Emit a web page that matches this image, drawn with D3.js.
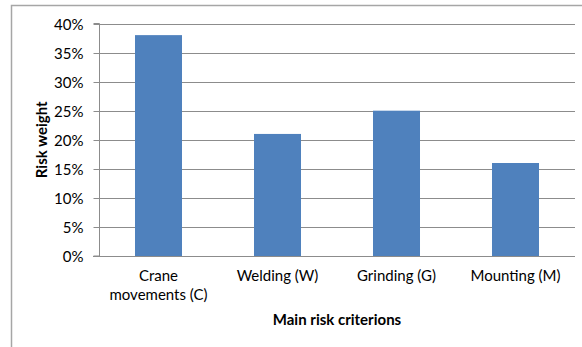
<!DOCTYPE html>
<html>
<head>
<meta charset="utf-8">
<script src="https://cdn.jsdelivr.net/npm/d3@7"></script>
<style>
  html, body { margin: 0; padding: 0; background: #fff; }
  svg { display: block; }
  text { font-family: Lato, "Open Sans", sans-serif; fill: #000; }
</style>
</head>
<body>
<svg id="chart" width="582" height="347"></svg>
<script>
// Risk weight of each main risk criterion
const categories = [["Crane", "movements (C)"], ["Welding (W)"], ["Grinding (G)"], ["Mounting (M)"]];
const riskWeights = [0.38, 0.21, 0.25, 0.16];
const yTicks = [0, 0.05, 0.10, 0.15, 0.20, 0.25, 0.30, 0.35, 0.40];

const svg = d3.select("#chart");
const margin = { left: 99, right: 7, top: 23.5, bottom: 91 };
const W = 582, H = 347;
const fontSize = "15px";

// outer frame (left and top edges)
svg.append("path")
  .attr("d", `M11.5,${H} L11.5,5.5 L${W},5.5`)
  .attr("fill", "none").attr("stroke", "#a6a6a6").attr("stroke-width", 1.5);

const keys = categories.map((c, i) => i);
const x = d3.scaleBand().domain(keys).range([margin.left, W - margin.right]).paddingInner(0.605).paddingOuter(0.3025);
const y = d3.scaleLinear().domain([0, 0.40]).range([H - margin.bottom, margin.top]);

// gridlines
svg.append("g").selectAll("line").data(yTicks.slice(1)).join("line")
  .attr("x1", margin.left).attr("x2", W - margin.right)
  .attr("y1", d => Math.round(y(d)) + 0.5).attr("y2", d => Math.round(y(d)) + 0.5)
  .attr("stroke", "#8c8c8c").attr("stroke-width", 1);

// y axis
const yAxis = d3.axisLeft(y).tickValues(yTicks).tickFormat(d3.format(".0%")).tickSize(6).tickPadding(10);
const gy = svg.append("g").attr("transform", `translate(${margin.left + 0.5},0)`).call(yAxis);
gy.select(".domain").attr("stroke", "#8c8c8c").attr("d", `M-6,${y(0)}H0V${y(0.40)}H-6`);
gy.selectAll(".tick line").attr("stroke", "#8c8c8c");
gy.selectAll(".tick").attr("transform", d => `translate(0,${Math.round(y(d)) + 0.5})`);
gy.selectAll("text").style("font-size", fontSize).attr("fill", "#000").attr("dy", "0.35em");

// bars
svg.append("g").selectAll("rect").data(riskWeights).join("rect")
  .attr("x", (d, i) => x(i))
  .attr("width", x.bandwidth())
  .attr("y", d => y(d))
  .attr("height", d => y(0) - y(d))
  .attr("fill", "#4f81bd");

// baseline
svg.append("line")
  .attr("x1", margin.left - 6).attr("x2", W - margin.right)
  .attr("y1", Math.round(y(0)) + 0.5).attr("y2", Math.round(y(0)) + 0.5)
  .attr("stroke", "#8c8c8c");

// category labels
const xl = svg.append("g");
categories.forEach((lines, i) => {
  const t = xl.append("text")
    .attr("text-anchor", "middle")
    .style("font-size", fontSize);
  lines.forEach((ln, j) => {
    t.append("tspan").attr("x", x(i) + x.bandwidth() / 2).attr("y", 281 + j * 19).text(ln);
  });
});

// axis titles
svg.append("text")
  .attr("x", (margin.left + W - margin.right) / 2).attr("y", 325)
  .attr("text-anchor", "middle").style("font-size", fontSize).style("font-weight", "bold")
  .text("Main risk criterions");

svg.append("text")
  .attr("transform", `translate(47,${(y(0) + y(0.40)) / 2}) rotate(-90)`)
  .attr("text-anchor", "middle").style("font-size", fontSize).style("font-weight", "bold")
  .text("Risk weight");
</script>
</body>
</html>
